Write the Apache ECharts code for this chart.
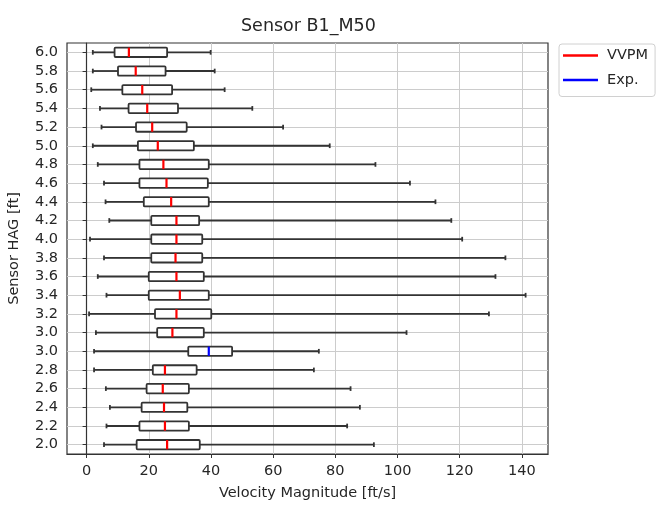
<!DOCTYPE html>
<html>
<head>
<meta charset="utf-8">
<title>Sensor B1_M50</title>
<script src="https://cdn.jsdelivr.net/npm/echarts@6/dist/echarts.min.js"></script>
<style>
  html, body { margin: 0; padding: 0; background: #fff; }
  #chart { width: 664px; height: 510px; }
</style>
</head>
<body>
<div id="chart"></div>
<script>
// sensor heights, bottom to top (3.0 appears twice: model and experiment)
var heights = ['2.0','2.2','2.4','2.6','2.8','3.0','3.0','3.2','3.4','3.6','3.8',
               '4.0','4.2','4.4','4.6','4.8','5.0','5.2','5.4','5.6','5.8','6.0'];
// which source each row comes from
var sources = ['VVPM','VVPM','VVPM','VVPM','VVPM','Exp.','VVPM','VVPM','VVPM','VVPM','VVPM',
               'VVPM','VVPM','VVPM','VVPM','VVPM','VVPM','VVPM','VVPM','VVPM','VVPM','VVPM'];
// box stats [ft/s]
var minVals = [5.6, 6.4, 7.5, 6.2, 2.4, 2.4, 3.0, 0.8, 6.4, 3.6, 5.6,
               1.1, 7.3, 6.1, 5.6, 3.6, 2.0, 4.8, 4.3, 1.5, 2.0, 2.0];
var q1Vals  = [16.1, 17.0, 17.7, 19.3, 21.3, 32.7, 22.7, 22.0, 20.0, 20.0, 20.8,
               20.8, 20.8, 18.4, 17.0, 17.0, 16.5, 15.9, 13.5, 11.5, 10.1, 9.0];
var medVals = [25.9, 25.2, 24.9, 24.5, 25.2, 39.3, 27.6, 28.9, 30.0, 28.9, 28.6,
               28.9, 28.9, 27.2, 25.7, 24.7, 22.9, 21.1, 19.5, 17.9, 15.8, 13.6];
var q3Vals  = [36.4, 32.9, 32.4, 32.9, 35.4, 46.8, 37.7, 40.1, 39.3, 37.7, 37.2,
               37.2, 36.2, 39.3, 39.0, 39.3, 34.5, 32.2, 29.4, 27.5, 25.4, 25.9];
var maxVals = [92.4, 83.8, 87.9, 84.9, 73.1, 74.7, 102.9, 129.4, 141.2, 131.5, 134.7,
               120.8, 117.3, 112.2, 104.0, 92.9, 78.2, 63.2, 53.3, 44.4, 41.2, 39.9];
var xTicks = [0, 20, 40, 60, 80, 100, 120, 140];

var textColor = '#262626';
var edgeColor = '#333333';
var fs = 14.5;

function rowsFor(src) {
  var out = [];
  for (var i = 0; i < heights.length; i++) {
    if (sources[i] === src) {
      out.push([i, minVals[i], q1Vals[i], medVals[i], q3Vals[i], maxVals[i]]);
    }
  }
  return out;
}

// matplotlib style horizontal box: half-height caps, coloured median
function renderBox(params, api) {
  var y = api.value(0);
  var lo = api.coord([api.value(1), y]);
  var b1 = api.coord([api.value(2), y]);
  var md = api.coord([api.value(3), y]);
  var b3 = api.coord([api.value(4), y]);
  var hi = api.coord([api.value(5), y]);
  var h = api.size([0, 1])[1] * 0.25;
  var cap = h / 2;
  var cy = lo[1];
  var st = { stroke: edgeColor, lineWidth: 1.8, fill: null };
  return {
    type: 'group',
    children: [
      { type: 'line', shape: { x1: lo[0], y1: cy, x2: b1[0], y2: cy }, style: st },
      { type: 'line', shape: { x1: b3[0], y1: cy, x2: hi[0], y2: cy }, style: st },
      { type: 'line', shape: { x1: lo[0], y1: cy - cap, x2: lo[0], y2: cy + cap }, style: st },
      { type: 'line', shape: { x1: hi[0], y1: cy - cap, x2: hi[0], y2: cy + cap }, style: st },
      { type: 'rect', shape: { x: b1[0], y: cy - h, width: b3[0] - b1[0], height: 2 * h, r: 1 },
        style: { fill: '#fff', stroke: edgeColor, lineWidth: 1.8 } },
      { type: 'line', shape: { x1: md[0], y1: cy - h, x2: md[0], y2: cy + h },
        style: { stroke: api.visual('color'), lineWidth: 2.2 } }
    ]
  };
}

var myChart = echarts.init(document.getElementById('chart'));
var option = {
  backgroundColor: '#fff',
  animation: false,
  textStyle: { fontFamily: 'DejaVu Sans' },
  title: {
    text: 'Sensor B1_M50',
    left: 236,
    top: 12,
    textStyle: { fontSize: 17.5, fontWeight: 'normal', color: textColor }
  },
  legend: {
    orient: 'vertical',
    left: 559,
    top: 44,
    padding: [4, 7, 9, 4],
    itemWidth: 35,
    itemHeight: 2.5,
    itemGap: 9.5,
    borderColor: '#d0d0d0',
    borderWidth: 1,
    borderRadius: 3,
    backgroundColor: '#fff',
    textStyle: { fontSize: fs, color: textColor, padding: [0, 0, 0, 4] },
    data: [
      { name: 'VVPM', icon: 'rect' },
      { name: 'Exp.', icon: 'rect' }
    ]
  },
  grid: {
    left: 67,
    right: 116,
    top: 43,
    bottom: 56,
    show: true,
    borderColor: edgeColor,
    borderWidth: 1.2,
    backgroundColor: 'transparent',
    outerBoundsMode: 'none'
  },
  xAxis: {
    type: 'value',
    min: -6.3,
    max: 148.4,
    name: 'Velocity Magnitude [ft/s]',
    nameLocation: 'middle',
    nameGap: 32,
    nameTextStyle: { fontSize: fs, color: textColor },
    axisLine: { show: true, lineStyle: { color: edgeColor, width: 1.2 } },
    axisTick: { show: true, length: 4, customValues: xTicks, lineStyle: { color: edgeColor } },
    axisLabel: { customValues: xTicks, fontSize: fs, color: textColor, margin: 10 },
    splitLine: { show: true, lineStyle: { color: '#cccccc', width: 1 } }
  },
  yAxis: {
    type: 'category',
    data: heights,
    name: 'Sensor HAG [ft]',
    nameLocation: 'middle',
    nameGap: 45,
    nameTextStyle: { fontSize: fs, color: textColor },
    axisLine: { show: true, lineStyle: { color: edgeColor, width: 1.2 } },
    axisTick: { show: true, alignWithLabel: true, length: 4, lineStyle: { color: edgeColor } },
    axisLabel: { fontSize: fs, color: textColor, margin: 9, interval: 0 },
    splitLine: { show: true, alignWithLabel: true, interval: 0, lineStyle: { color: '#cccccc', width: 1 } }
  },
  series: [
    {
      name: 'VVPM',
      type: 'custom',
      renderItem: renderBox,
      itemStyle: { color: '#ff0000' },
      encode: { x: [1, 2, 3, 4, 5], y: 0 },
      data: rowsFor('VVPM')
    },
    {
      name: 'Exp.',
      type: 'custom',
      renderItem: renderBox,
      itemStyle: { color: '#0000ff' },
      encode: { x: [1, 2, 3, 4, 5], y: 0 },
      data: rowsFor('Exp.')
    }
  ]
};
myChart.setOption(option);
</script>
</body>
</html>
